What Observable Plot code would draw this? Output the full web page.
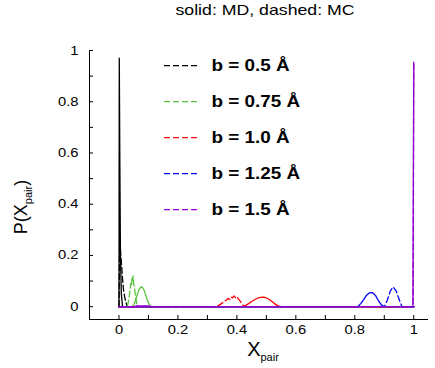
<!DOCTYPE html>
<html><head><meta charset="utf-8">
<script src="https://cdn.jsdelivr.net/npm/d3@7"></script>
<script src="https://cdn.jsdelivr.net/npm/@observablehq/plot@0.6"></script>
<style>body{margin:0;background:#fff}</style>
</head><body><div id="chart"></div>
<script>
const title = "solid: MD, dashed: MC";
const xLabelMain = "X", xLabelSub = "pair";
const yLabelMain = "P(X", yLabelSub = "pair", yLabelEnd = ")";
const seriesNames = ["b = 0.5 Å", "b = 0.75 Å", "b = 1.0 Å", "b = 1.25 Å", "b = 1.5 Å"];
const seriesColors = ["#000000", "#55c43c", "#ff0000", "#0000ff", "#9400d3"];

const xMajor = [0, 0.2, 0.4, 0.6, 0.8, 1];
const xMinor = [0, 0.1, 0.2, 0.3, 0.4, 0.5, 0.6, 0.7, 0.8, 0.9, 1];
const yMajor = [0, 0.2, 0.4, 0.6, 0.8, 1];
const yMinor = [0, 0.1, 0.2, 0.3, 0.4, 0.5, 0.6, 0.7, 0.8, 0.9, 1];

// MD (solid)
const mdX05 = [0, 0.001, 0.003, 0.005, 0.008, 0.012, 1];
const mdY05 = [0, 0.97, 0.55, 0.2, 0.05, 0, 0];
const mdX075 = [0, 0.045, 0.05, 0.055, 0.06, 0.065, 0.07, 0.075, 0.08, 0.085, 0.09, 0.095, 0.1, 0.105, 0.11, 1];
const mdY075 = [0, 0, 0.008, 0.02, 0.04, 0.058, 0.07, 0.077, 0.075, 0.065, 0.048, 0.03, 0.015, 0.005, 0, 0];
const mdX10 = [0, 0.42, 0.43, 0.44, 0.45, 0.46, 0.47, 0.48, 0.49, 0.5, 0.51, 0.52, 0.53, 0.54, 0.55, 1];
const mdY10 = [0, 0, 0.005, 0.012, 0.02, 0.027, 0.033, 0.036, 0.037, 0.034, 0.028, 0.019, 0.01, 0.003, 0, 0];
const mdX125 = [0, 0.81, 0.82, 0.83, 0.84, 0.85, 0.86, 0.87, 0.88, 0.89, 0.9, 1];
const mdY125 = [0, 0, 0.012, 0.028, 0.045, 0.054, 0.055, 0.044, 0.024, 0.007, 0, 0];
const mdX15 = [0, 0.05, 0.06, 0.08, 0.1, 0.11, 0.99, 0.997, 1];
const mdY15 = [0, 0, 0.003, 0.003, 0.003, 0, 0, 0, 0.955];

// MC (dashed)
const mcX05 = [0, 0.003, 0.006, 0.009, 0.012, 0.015, 0.019, 0.023, 0.028, 1];
const mcY05 = [0, 0.27, 0.2, 0.16, 0.11, 0.07, 0.04, 0.02, 0, 0];
const mcX075 = [0, 0.028, 0.032, 0.036, 0.04, 0.042, 0.044, 0.046, 0.048, 0.05, 0.053, 0.056, 0.06, 0.064, 1];
const mcY075 = [0, 0, 0.02, 0.05, 0.09, 0.08, 0.11, 0.1, 0.12, 0.09, 0.07, 0.04, 0.015, 0, 0];
const mcX10 = [0, 0.33, 0.34, 0.35, 0.36, 0.37, 0.375, 0.38, 0.385, 0.39, 0.395, 0.4, 0.405, 0.41, 0.415, 0.42, 0.425, 1];
const mcY10 = [0, 0, 0.006, 0.014, 0.022, 0.032, 0.028, 0.038, 0.034, 0.042, 0.036, 0.04, 0.03, 0.024, 0.014, 0.006, 0, 0];
const mcX125 = [0, 0.9, 0.91, 0.92, 0.93, 0.94, 0.95, 0.96, 1];
const mcY125 = [0, 0, 0.025, 0.06, 0.077, 0.062, 0.03, 0, 0];
const mcX15 = [0, 0.99, 0.998, 1];
const mcY15 = [0, 0, 0, 0.95];

const mdXs = [mdX05, mdX075, mdX10, mdX125, mdX15];
const mdYs = [mdY05, mdY075, mdY10, mdY125, mdY15];
const mcXs = [mcX05, mcX075, mcX10, mcX125, mcX15];
const mcYs = [mcY05, mcY075, mcY10, mcY125, mcY15];

const toRows = (xs, ys) => xs.map((x, i) => ({x, y: ys[i]}));

const lineMarks = [];
seriesNames.forEach((name, i) => {
  lineMarks.push(Plot.line(toRows(mdXs[i], mdYs[i]), {x: "x", y: "y", stroke: seriesColors[i], strokeWidth: 1.3}));
  lineMarks.push(Plot.line(toRows(mcXs[i], mcYs[i]), {x: "x", y: "y", stroke: seriesColors[i], strokeWidth: 1.3, strokeDasharray: "6,3"}));
});

const legendMarks = seriesNames.map((name, i) =>
  Plot.text([name], {frameAnchor: "top-left", dx: 122, dy: 15 + 36 * i, lineAnchor: "middle", textAnchor: "start",
    fontWeight: "bold", fontSize: 16, fill: "#000"}));

const FONT = "'Liberation Sans', Arial, sans-serif";
const plot = Plot.plot({
  width: 435, height: 368,
  marginLeft: 89, marginRight: 7, marginTop: 50, marginBottom: 49,
  x: {domain: [-0.1, 1.05]},
  y: {domain: [-0.05, 1]},
  style: {fontFamily: FONT, background: "#fff", color: "#000", overflow: "visible"},
  marks: [
    Plot.ruleX([-0.1], {stroke: "#000", strokeWidth: 1}),
    Plot.ruleY([-0.05], {stroke: "#000", strokeWidth: 1}),
    Plot.axisX(xMinor, {anchor: "bottom", tickSize: 4, dy: -4, fill: "none", stroke: "#000", label: null}),
    Plot.axisX(xMajor, {anchor: "bottom", tickSize: 0, tickPadding: 6, tickFormat: d => String(d), fontSize: 12.5, fill: "#000", label: null}),
    Plot.axisY(yMinor, {anchor: "left", tickSize: 4, dx: 4, fill: "none", stroke: "#000", label: null}),
    Plot.axisY(yMajor, {anchor: "left", tickSize: 0, tickPadding: 11, tickFormat: d => String(d), fontSize: 12.5, fill: "#000", label: null}),
    ...lineMarks,
    ...legendMarks,
    Plot.text([title], {frameAnchor: "top", dx: 6, dy: -40, lineAnchor: "middle", fontSize: 15, fill: "#000"}),
    Plot.text([xLabelMain + xLabelSub], {frameAnchor: "bottom", dx: 4, dy: 36, lineAnchor: "bottom", fontSize: 20, fill: "#000"})
  ]
});
document.getElementById("chart").appendChild(plot);

const svg = d3.select(plot);
// horizontal stretch of text to match the reference's wide lettering
svg.selectAll("text").each(function() {
  const L = this.getComputedTextLength();
  if (L > 0) {
    this.setAttribute("textLength", (L * 1.18).toFixed(2));
    this.setAttribute("lengthAdjust", "spacingAndGlyphs");
  }
});

// subscripts for x label
svg.selectAll("text").each(function() {
  const t = d3.select(this);
  if (this.textContent === xLabelMain + xLabelSub) {
    this.removeAttribute("textLength");
    this.removeAttribute("lengthAdjust");
    t.text(xLabelMain);
    t.append("tspan").attr("dy", 5).attr("font-size", 11).text(xLabelSub);
  }
});

// y label (rotated) with subscript
const yl = svg.append("text")
  .attr("transform", "translate(26.5,207) rotate(-90)")
  .attr("text-anchor", "middle")
  .attr("font-family", FONT).attr("font-size", 18).attr("fill", "#000");
yl.append("tspan").text(yLabelMain);
yl.append("tspan").attr("dy", 5).attr("font-size", 11).text(yLabelSub);
yl.append("tspan").attr("dy", -5).text(yLabelEnd);

// legend line samples
seriesNames.forEach((name, i) => {
  svg.append("line")
    .attr("x1", 164).attr("x2", 200)
    .attr("y1", 65.7 + 36 * i).attr("y2", 65.7 + 36 * i)
    .attr("stroke", seriesColors[i]).attr("stroke-width", 1.3).attr("stroke-dasharray", "6,3");
});
</script>
</body></html>
